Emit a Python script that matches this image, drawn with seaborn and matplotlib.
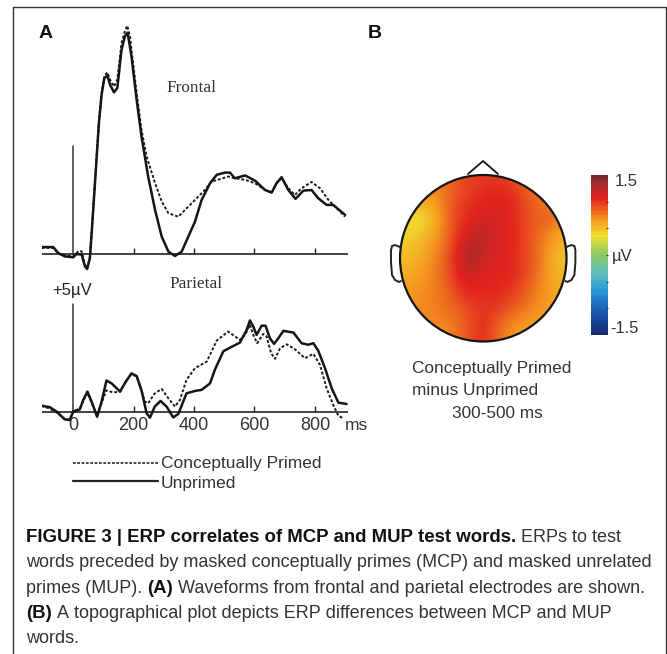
import numpy as np
import pandas as pd
import seaborn as sns
import matplotlib.pyplot as plt
from matplotlib.colors import LinearSegmentedColormap
from matplotlib.patches import Circle

# frontal waveform (ms, uV)
front_unprimed_ms = [-105, -66, -50, -28, 0, 11, 28, 39, 46, 55, 61, 74, 85, 94, 103, 113, 122, 135, 146, 160, 171, 180, 193, 210,
                     226, 248, 271, 293, 315, 337, 359, 381, 403, 425, 453, 475, 502, 519, 535, 569, 602, 635, 657, 673, 690,
                     712, 736, 762, 789, 811, 839, 861, 900]
front_unprimed_uv = [.32, .32, .05, -.11, -.15, 0, -.03, -.57, -.69, -.2, .95, 3.69, 6.03, 7.34, 8.11, 8.22, 7.8, 7.45, 7.65, 9.42, 10.03, 10.2, 9.1, 7.1,
                     5.42, 3.58, 2.03, .8, .11, -.09, .11, .8, 1.49, 2.49, 3.26, 3.65, 3.75, 3.75, 3.49, 3.62, 3.38, 2.95, 2.83, 3.26, 3.54,
                     2.95, 2.54, 2.92, 2.95, 2.57, 2.26, 2.26, 1.8]
front_primed_ms = [-105, -66, -50, -28, 0, 11, 20, 28, 39, 46, 55, 61, 74, 85, 94, 103, 113, 122, 135, 146, 160, 171, 179, 188, 193, 210,
                   226, 243, 271, 293, 315, 348, 375, 403, 431, 458, 486, 513, 535, 569, 602, 635, 657, 673, 690, 712, 734,
                   756, 789, 817, 845, 867, 900]
front_primed_uv = [.28, .28, .02, -.08, -.1, .05, .15, .12, -.5, -.65, -.15, 1.0, 3.75, 6.1, 7.4, 8.2, 8.37, 8.03, 7.72, 8.03, 9.72, 10.26, 10.52, 10.03, 9.4, 7.42,
                   5.72, 4.49, 3.26, 2.42, 1.88, 1.72, 2.1, 2.49, 2.88, 3.34, 3.45, 3.57, 3.49, 3.42, 3.26, 2.95, 2.83, 3.26, 3.49, 3.03, 2.72,
                   3.03, 3.32, 3.03, 2.49, 2.18, 1.72]

# parietal waveform
par_unprimed_ms = [-105, -77, -55, -28, -11, 0, 22, 33, 47, 61, 79, 94, 110, 127, 155, 174, 193, 210, 226, 243, 254, 270, 289, 309, 331, 348,
                   375, 403, 425, 453, 469, 497, 524, 552, 574, 585, 596, 607, 624, 637, 651, 665, 679, 696, 729, 756, 778, 795, 811,
                   834, 856, 878, 905]
par_unprimed_uv = [.29, .22, .02, -.34, -.37, .02, .12, .55, .94, .48, -.22, .48, 1.45, 1.32, .94, 1.4, 1.78, 1.66, 1.0, -.06, -.26, .25, .51, .25, -.25, -.09,
                   .86, .97, 1.02, 1.32, 1.95, 2.8, 3.0, 3.2, 3.78, 4.22, 3.94, 3.55, 3.98, 3.97, 3.4, 3.14, 3.4, 3.74, 3.66, 3.17, 3.1, 3.17, 2.83,
                   2.0, 1.08, .43, .37]
par_primed_ms = [-105, -77, -55, -28, -11, 0, 22, 33, 47, 61, 79, 94, 110, 132, 155, 174, 193, 210, 226, 237, 248, 270, 293, 315, 337, 353,
                 375, 403, 442, 475, 513, 552, 569, 585, 596, 609, 629, 640, 655, 668, 685, 707, 734, 767, 795, 817,
                 839, 861, 878, 894]
par_primed_uv = [.29, .15, -.02, -.34, -.34, .05, .15, .5, .88, .42, -.18, .42, 1.0, .9, .94, 1.4, 1.76, 1.62, 1.0, .48, .4, .86, 1.06, .63, .25, .55,
                 1.48, 2.02, 2.32, 3.29, 3.71, 3.32, 3.55, 4.02, 3.55, 3.17, 3.6, 3.48, 2.71, 2.45, 2.94, 3.12, 2.89, 2.48, 2.68, 2.17,
                 1.09, .32, -.18, -.29]

time_ticks = [0, 200, 400, 600, 800]
conditions = ['Conceptually Primed', 'Unprimed']

# topography in uV, coarse grid over the head, top row first
topo = np.array([
    [.80, .80, .80, .80, .90, .98, 1.0, 1.0, .98, .88, .80, .80, .80],
    [.70, .70, .70, .78, .92, 1.0, 1.05, 1.08, 1.05, .95, .82, .75, .70],
    [.52, .52, .58, .78, .97, 1.05, 1.08, 1.1, 1.08, .98, .85, .80, .75],
    [.38, .38, .48, .78, .97, 1.08, 1.15, 1.12, 1.08, 1.0, .86, .88, .75],
    [.40, .44, .58, .78, 1.0, 1.15, 1.25, 1.15, 1.08, 1.0, .85, .75, .60],
    [.48, .52, .66, .80, 1.08, 1.3, 1.25, 1.12, 1.08, 1.0, .85, .70, .55],
    [.52, .57, .70, .85, 1.1, 1.35, 1.18, 1.1, 1.08, 1.0, .85, .66, .48],
    [.56, .62, .72, .85, 1.1, 1.22, 1.12, 1.08, 1.08, 1.0, .85, .66, .52],
    [.62, .66, .72, .85, 1.03, 1.12, 1.08, 1.08, 1.05, .95, .80, .66, .56],
    [.66, .70, .75, .80, .95, 1.05, 1.05, 1.05, 1.0, .90, .75, .66, .56],
    [.70, .70, .75, .80, .85, .95, 1.0, 1.0, .90, .80, .70, .65, .60],
    [.70, .70, .70, .75, .80, .95, 1.05, .90, .75, .70, .65, .60, .60],
    [.70, .70, .70, .70, .80, .95, 1.05, .85, .70, .60, .60, .60, .60],
])

W, H = 667, 654
sns.set_theme(style='white')
plt.rcParams['font.family'] = ['Liberation Sans', 'DejaVu Sans']
fig = plt.figure(figsize=(W / 100, H / 100), dpi=100)


def px_axes(x0, y0, x1, y1):
    # axes from picture pixels, y counted from the top
    return fig.add_axes([x0 / W, 1 - y1 / H, (x1 - x0) / W, (y1 - y0) / H])


# ms and uV scales: 0.302 px per ms, 21.7 px per uV
def wave_axes(y_base):
    ax = px_axes(41.5, y_base - 240, 347.5, y_base + 30)
    ax.set_xlim(-105, 908)
    ax.set_ylim(-30 / 21.7, 240 / 21.7)
    ax.axis('off')
    ax.patch.set_alpha(0)
    return ax


def draw_wave(ax, p_ms, p_uv, u_ms, u_uv):
    dash = pd.DataFrame({'ms': p_ms, 'uv': p_uv})
    solid = pd.DataFrame({'ms': u_ms, 'uv': u_uv})
    ax.axhline(0, color='#222222', lw=1.2)
    ax.plot([0, 0], [0, 5], color='#333333', lw=1.1)
    ax.vlines(time_ticks[1:], 0, 0.28, color='#222222', lw=1.0)
    sns.lineplot(data=dash, x='ms', y='uv', ax=ax, color='#1c1c1c', lw=1.4, ls=(0, (1.5, 1)), estimator=None, sort=False)
    sns.lineplot(data=solid, x='ms', y='uv', ax=ax, color='#151515', lw=1.8, estimator=None, sort=False)


ax_f = wave_axes(254)
draw_wave(ax_f, front_primed_ms, front_primed_uv, front_unprimed_ms, front_unprimed_uv)
ax_p = wave_axes(412)
draw_wave(ax_p, par_primed_ms, par_primed_uv, par_unprimed_ms, par_unprimed_uv)

# full figure overlay for texts, in picture pixels
ov = fig.add_axes([0, 0, 1, 1], zorder=5)
ov.set_xlim(0, W)
ov.set_ylim(H, 0)
ov.axis('off')
ov.patch.set_alpha(0)
ov.plot([12.5, 12.5, 665.5, 665.5], [H, 6.5, 6.5, H], color='#333333', lw=1.0)
ov.text(39, 38, 'A', fontsize=14, fontweight='bold', color='#111111')
ov.text(368, 38, 'B', fontsize=14, fontweight='bold', color='#111111')
ov.text(166, 92, 'Frontal', family='Liberation Serif', fontsize=12.4, color='#333333')
ov.text(169, 288, 'Parietal', family='Liberation Serif', fontsize=12.4, color='#333333')
ov.text(52, 295, '+5µV', fontsize=12, color='#222222')
for t in time_ticks:
    ov.text(73.3 + t * 0.302, 430, str(t), fontsize=13, color='#333333', ha='center')
ov.text(345, 430, 'ms', fontsize=12.5, color='#333333')

# legend keys
ov.plot([73, 158], [463, 463], color='#222222', lw=1.2, ls=(0, (1.6, 1)))
ov.plot([73, 158], [481, 481], color='#222222', lw=1.6)
ov.text(161, 468, conditions[0], fontsize=12.5, color='#333333')
ov.text(161, 488, conditions[1], fontsize=12.5, color='#333333')

# panel B
cmap = LinearSegmentedColormap.from_list('muted_jet', [
    (0.0, '#14286e'), (0.14, '#1a5ab4'), (0.28, '#2a9ad8'), (0.38, '#5cc0c0'), (0.5, '#8cc864'),
    (0.62, '#f0e030'), (0.72, '#f59a20'), (0.86, '#e2231f'), (0.95, '#a82a2a'), (1.0, '#6e2a30')])
ax_h = px_axes(400, 175, 566.5, 341.5)
im = ax_h.imshow(topo, cmap=cmap, vmin=-1.5, vmax=1.5, interpolation='bicubic', extent=[-1, 1, -1, 1], aspect='equal')
im.set_clip_path(Circle((0, 0), 1, transform=ax_h.transData))
ax_h.add_patch(Circle((0, 0), 1, fc='none', ec='#151515', lw=1.6, clip_on=False))
ax_h.axis('off')
ax_h.set_xlim(-1, 1)
ax_h.set_ylim(-1, 1)

# nose and ears
ov.plot([468, 483, 498], [174, 161, 174], color='#151515', lw=1.3)
ear_y = np.array([247, 245, 246, 250, 262, 275, 280, 282, 281])
ear_x = np.array([400, 395, 392, 391, 391, 392, 395, 399, 401])
ov.plot(ear_x, ear_y, color='#222222', lw=1.4)
ov.plot(2 * 483.2 - ear_x, ear_y, color='#222222', lw=1.4)

ax_c = px_axes(591, 175, 608, 335)
sns.heatmap(np.linspace(1.5, -1.5, 64)[:, None], ax=ax_c, cmap=cmap, vmin=-1.5, vmax=1.5, cbar=False, xticklabels=False, yticklabels=False)
ov.hlines(np.linspace(175, 335, 7)[1:-1], 606, 608, color='#333333', lw=0.8)
ov.text(615, 186, '1.5', fontsize=12, color='#333333')
ov.text(612, 261, 'µV', fontsize=12, color='#333333')
ov.text(610, 333, '-1.5', fontsize=12, color='#333333')

ov.text(412, 373, 'Conceptually Primed', fontsize=12.4, color='#333333')
ov.text(412, 395, 'minus Unprimed', fontsize=12.4, color='#333333')
ov.text(452, 418, '300-500 ms', fontsize=12.4, color='#333333')

# caption, bold and regular runs laid out one after the other
runs = [
    [('FIGURE 3 | ERP correlates of MCP and MUP test words.', 'bold'), (' ERPs to test', 'normal')],
    [('words preceded by masked conceptually primes (MCP) and masked unrelated', 'normal')],
    [('primes (MUP). ', 'normal'), ('(A)', 'bold'), (' Waveforms from frontal and parietal electrodes are shown.', 'normal')],
    [('(B)', 'bold'), (' A topographical plot depicts ERP differences between MCP and MUP', 'normal')],
    [('words.', 'normal')],
]
y_lines = [542, 567, 593, 618, 643]
fig.canvas.draw()
rend = fig.canvas.get_renderer()
for y, parts in zip(y_lines, runs):
    x = 26
    for s, w in parts:
        size = 13.4 if w == 'bold' else 13
        col = '#111111' if w == 'bold' else '#333333'
        t = ov.text(x, y, s.replace(' ', '\u00a0'), fontsize=size, fontweight=w, color=col)
        x = ov.transData.inverted().transform((t.get_window_extent(rend).x1, 0))[0]

fig.savefig('out.png', dpi=100)
